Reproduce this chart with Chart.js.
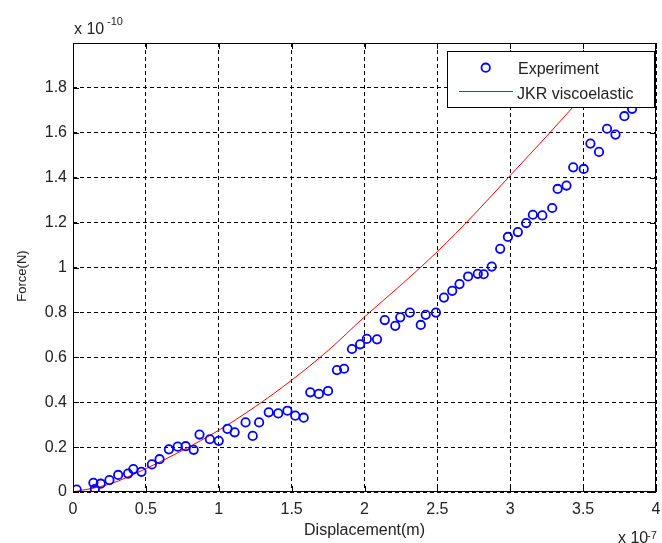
<!DOCTYPE html>
<html>
<head>
<meta charset="utf-8">
<script src="https://cdn.jsdelivr.net/npm/chart.js@4.4.0/dist/chart.umd.min.js"></script>
<style>
html, body { margin: 0; padding: 0; background: #fff; }
canvas { display: block; }
</style>
</head>
<body>
<canvas id="myChart" width="662" height="543"></canvas>
<script>
// displacement in 1e-7 m, force in 1e-10 N
const dispExp = [0.025, 0.14, 0.15, 0.19, 0.25, 0.31, 0.378, 0.414, 0.47, 0.541, 0.594, 0.658, 0.718, 0.773, 0.828, 0.868, 0.939, 1.0,
  1.06, 1.109, 1.184, 1.233, 1.277, 1.343, 1.408, 1.471, 1.525, 1.583, 1.628, 1.687, 1.75, 1.811, 1.86, 1.914, 1.97, 2.016, 2.086,
  2.139, 2.211, 2.245, 2.311, 2.386, 2.42, 2.49, 2.545, 2.602, 2.652, 2.711, 2.777, 2.818, 2.873, 2.931, 2.984, 3.052, 3.109, 3.155,
  3.22, 3.288, 3.325, 3.386, 3.432, 3.504, 3.55, 3.609, 3.664, 3.722, 3.783, 3.836, 3.98];
const forceExp = [0.011, 0.041, 0.013, 0.037, 0.053, 0.076, 0.082, 0.102, 0.09, 0.123, 0.146, 0.19, 0.202, 0.204, 0.188, 0.256, 0.235, 0.228,
  0.281, 0.266, 0.31, 0.25, 0.31, 0.355, 0.35, 0.362, 0.34, 0.331, 0.444, 0.437, 0.45, 0.543, 0.549, 0.637, 0.658, 0.682, 0.68,
  0.766, 0.74, 0.778, 0.799, 0.744, 0.789, 0.799, 0.866, 0.896, 0.926, 0.96, 0.972, 0.97, 1.004, 1.083, 1.136, 1.158, 1.198, 1.235,
  1.232, 1.265, 1.35, 1.365, 1.446, 1.439, 1.552, 1.515, 1.618, 1.592, 1.674, 1.707, 1.868];

const dispJkr = [0, 0.25, 0.5, 0.75, 1, 1.25, 1.5, 1.75, 2, 2.25, 2.5, 2.75, 3, 3.25, 3.5, 3.7];
const forceJkr = [0, 0.035, 0.104, 0.185, 0.275, 0.38, 0.498, 0.63, 0.78, 0.922, 1.071, 1.235, 1.41, 1.585, 1.765, 1.91];

const xTicks = [0, 0.5, 1, 1.5, 2, 2.5, 3, 3.5, 4];
const yTicks = [0, 0.2, 0.4, 0.6, 0.8, 1, 1.2, 1.4, 1.6, 1.8];

const FONT = '"Liberation Sans", Arial, sans-serif';
Chart.defaults.font.family = FONT;
Chart.defaults.color = '#222';

const ctx = document.getElementById('myChart');

const matlabBox = {
  id: 'matlabBox',
  afterDraw(chart) {
    const c = chart.ctx;
    const a = chart.chartArea;
    const xs = chart.scales.x, ys = chart.scales.y;
    c.save();
    c.strokeStyle = '#000';
    c.lineWidth = 1;
    c.setLineDash([]);
    c.strokeRect(a.left + 0.5, a.top + 0.5, a.right - a.left - 1, a.bottom - a.top - 1);
    // ticks inside the box
    c.beginPath();
    xTicks.forEach(v => {
      const px = Math.round(xs.getPixelForValue(v)) + 0.5;
      c.moveTo(px, a.bottom); c.lineTo(px, a.bottom - 6);
      c.moveTo(px, a.top); c.lineTo(px, a.top + 6);
    });
    yTicks.forEach(v => {
      const py = Math.round(ys.getPixelForValue(v)) + 0.5;
      c.moveTo(a.left, py); c.lineTo(a.left + 6, py);
      c.moveTo(a.right, py); c.lineTo(a.right - 6, py);
    });
    c.stroke();

    // legend
    c.fillStyle = '#fff';
    c.fillRect(447.5, 51.5, 207, 56);
    c.strokeStyle = '#000';
    c.strokeRect(447.5, 51.5, 207, 56);
    c.beginPath();
    c.strokeStyle = '#0000ff';
    c.lineWidth = 1.8;
    c.arc(485.7, 67.7, 4.2, 0, Math.PI * 2);
    c.stroke();
    c.beginPath();
    c.strokeStyle = '#ff0000';
    c.lineWidth = 1;
    c.moveTo(459, 91.5); c.lineTo(513, 91.5);
    c.stroke();
    c.fillStyle = '#222';
    c.font = '16px ' + FONT;
    c.textBaseline = 'alphabetic';
    c.textAlign = 'left';
    c.fillText('Experiment', 518, 74);
    c.fillText('JKR viscoelastic', 517, 99);

    // exponent labels
    c.fillText('x 10', 74, 34);
    c.fillText('x 10', 618, 543);
    c.font = '11px ' + FONT;
    c.fillText('-10', 107, 25);
    c.fillText('-7', 647, 539);

    // y axis title
    c.translate(22, 276);
    c.rotate(-Math.PI / 2);
    c.font = '13px ' + FONT;
    c.textAlign = 'center';
    c.textBaseline = 'middle';
    c.fillText('Force(N)', 0, 0);
    c.restore();
  }
};

new Chart(ctx, {
  type: 'scatter',
  data: {
    datasets: [
      {
        label: 'Experiment',
        data: dispExp.map((x, i) => ({ x: x, y: forceExp[i] })),
        showLine: false,
        pointStyle: 'circle',
        pointRadius: 4.2,
        pointHoverRadius: 4.2,
        borderWidth: 1.8,
        borderColor: '#0000ff',
        backgroundColor: 'rgba(0,0,0,0)'
      },
      {
        label: 'JKR viscoelastic',
        data: dispJkr.map((x, i) => ({ x: x, y: forceJkr[i] })),
        showLine: true,
        pointRadius: 0,
        borderWidth: 1,
        borderColor: '#ff0000',
        backgroundColor: '#ff0000',
        cubicInterpolationMode: 'monotone'
      }
    ]
  },
  options: {
    responsive: false,
    animation: false,
    layout: { padding: { top: 43, right: 2, left: 0, bottom: 0 } },
    plugins: {
      legend: { display: false },
      tooltip: { enabled: false }
    },
    scales: {
      x: {
        type: 'linear',
        min: 0,
        max: 4,
        afterBuildTicks: s => { s.ticks = xTicks.map(v => ({ value: v })); },
        afterFit: s => { s.height = 51; s.paddingLeft = 0; s.paddingRight = 0; },
        grid: { color: '#000', lineWidth: 1, drawTicks: false },
        border: { display: false, dash: [4, 3] },
        ticks: {
          autoSkip: false, maxRotation: 0, padding: 8,
          font: { size: 16 }, color: '#222',
          callback: v => String(v)
        },
        title: {
          display: true, text: 'Displacement(m)',
          font: { size: 16 }, color: '#222',
          padding: { top: 0, bottom: 3 }
        }
      },
      y: {
        type: 'linear',
        min: 0,
        max: 2,
        afterBuildTicks: s => { s.ticks = yTicks.map(v => ({ value: v })); },
        afterFit: s => { s.width = 73; s.paddingTop = 0; s.paddingBottom = 0; },
        grid: { color: '#000', lineWidth: 1, drawTicks: false },
        border: { display: false, dash: [4, 3] },
        ticks: {
          autoSkip: false, padding: 6,
          font: { size: 16 }, color: '#222',
          callback: v => String(v)
        }
      }
    }
  },
  plugins: [matlabBox]
});
</script>
</body>
</html>
